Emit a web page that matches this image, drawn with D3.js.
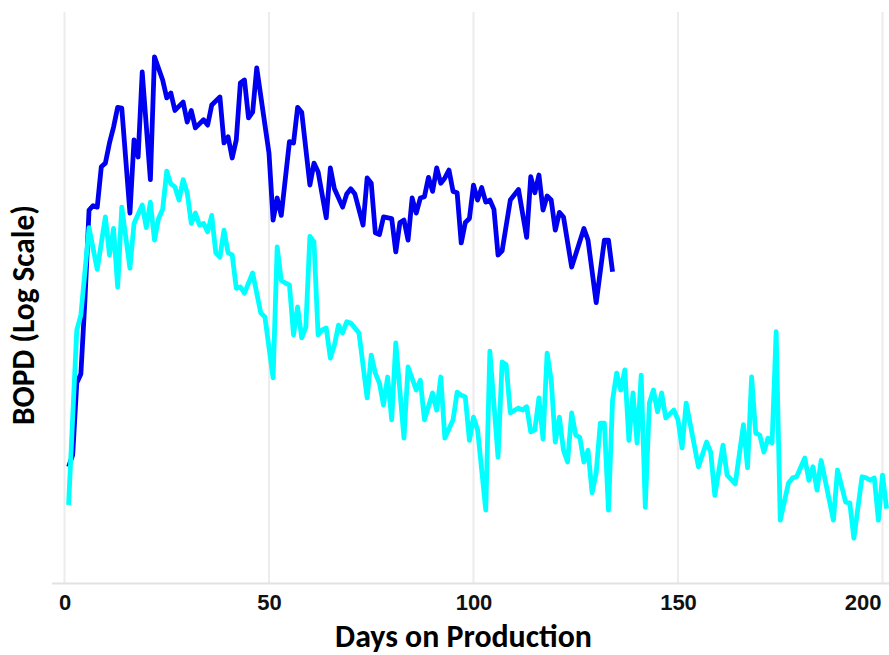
<!DOCTYPE html>
<html>
<head>
<meta charset="utf-8">
<script src="https://cdn.jsdelivr.net/npm/d3@7"></script>
<style>
  html, body { margin: 0; padding: 0; background: #fff; }
  svg { display: block; }
</style>
</head>
<body>
<svg id="chart" width="889" height="655"></svg>
<script>
// ---- data ----
const xTicks = [0, 50, 100, 150, 200];
const xLabel = "Days on Production";
const yLabel = "BOPD (Log Scale)";

const blueDays = [1,2,3,4,5,6,7,8,9,10,11,12,13,14,16,17,18,19,21,22,24,25,26,27,29,30,31,32,34,35,36,38,39,40,41,42,43,44,45,46,47,50,51,52,53,55,56,57,58,60,61,62,64,65,66,68,69,70,71,73,74,75,76,77,78,80,81,82,83,84,85,86,87,88,89,90,91,92,93,94,95,96,97,98,99,100,101,102,103,104,105,106,107,109,111,113,114,115,116,117,118,119,120,121,122,124,127,128,130,132,133,134];
const blueBOPD = [24.4,26.7,46.4,49.7,87.8,175,181,179,244,251,293,331,385,383,171,300,263,505,221,567,475,414,430,376,401,344,376,329,350,336,392,417,293,307,261,300,464,475,355,371,521,271,162,192,168,296,293,385,371,212,251,235,165,242,206,179,198,206,198,156,224,215,147,145,166,164,127,159,162,139,192,171,192,194,225,202,242,215,224,238,202,200,136,159,164,212,189,208,186,189,176,124,128,189,205,142,226,200,229,175,195,189,150,172,166,113,152,139,86,139,139,109];

const cyanDays = [1,3,4,6,8,10,11,12,13,14,16,17,19,20,21,22,23,24,25,26,27,28,29,30,31,32,33,34,35,36,37,38,39,40,41,42,43,44,46,48,49,51,52,53,54,55,56,57,58,59,60,61,62,63,64,65,66,67,68,69,70,72,74,75,76,77,78,79,80,81,83,84,86,87,88,90,91,92,93,95,96,97,98,99,100,101,103,104,106,107,108,109,111,112,113,114,115,116,117,118,119,120,121,122,123,124,125,126,127,128,129,130,131,132,133,134,135,136,137,138,139,140,141,142,143,144,145,146,147,149,150,151,152,155,157,158,159,161,162,164,166,167,168,169,170,171,172,173,174,175,177,178,179,181,182,183,184,185,188,189,191,192,193,195,196,197,198,199,200,201];
const cyanBOPD = [18.2,69.7,78.2,153,111,166,124,152,97,179,112,158,182,153,186,139,164,176,236,214,209,189,221,200,158,171,156,158,148,168,126,122,150,126,124,96,97,92.5,108,79.4,77,48.3,132,102,100,98.5,67.2,83.2,65.6,71.3,143,137,67.2,69.8,70.8,56.2,62.1,72.4,68.1,74.3,73.6,68.1,41.4,57.5,50.1,46.4,39.2,48.6,35.0,63.1,30.4,52.5,44.0,47.4,35.0,43.0,37.7,48.6,30.4,35.0,43.3,42.3,41.7,29.9,35.7,32.4,17.5,59.3,26.3,54.6,53.4,36.9,38.3,37.7,38.7,31.9,32.4,41.4,30.2,58.4,47.5,29.5,35.7,27.7,25.3,36.9,31.1,30.6,25.3,27.7,20.0,23.3,34.1,34.1,17.5,40.7,50.1,44.0,51.3,29.9,43.0,29.3,49.3,17.9,39.8,44.0,37.2,43.0,35.5,37.7,35.0,28.2,39.8,24.4,29.5,27.3,19.6,28.8,22.9,21.4,33.7,24.2,48.6,31.6,31.1,27.3,30.4,29.3,68.8,16.2,21.5,22.4,22.6,26.1,22.0,24.4,20.4,25.6,16.2,23.8,18.6,18.5,14.1,22.6,22.4,22.0,22.4,16.2,22.9,17.7];

// ---- layout ----
const W = 889, H = 655;
const svg = d3.select("#chart");

const x = d3.scaleLinear().domain([0, 200]).range([64.5, 882.5]);
const y = d3.scaleLog().domain([10, 1000]).range([583, -17]);

svg.append("defs").append("clipPath").attr("id", "plotclip")
  .append("rect").attr("x", 0).attr("y", 0).attr("width", W).attr("height", 583);

// vertical gridlines
svg.append("g").selectAll("line").data(xTicks).join("line")
  .attr("x1", d => x(d)).attr("x2", d => x(d))
  .attr("y1", 12).attr("y2", 583)
  .attr("stroke", "#ececec").attr("stroke-width", 2);

// x-axis baseline
svg.append("line")
  .attr("x1", 52).attr("x2", W).attr("y1", 583.5).attr("y2", 583.5)
  .attr("stroke", "#e2e2e2").attr("stroke-width", 2);

// x-axis via d3.axisBottom, styled
const xAxis = d3.axisBottom(x).tickValues(xTicks).tickSize(0).tickPadding(0).tickFormat(d3.format("d"));
const gx = svg.append("g").attr("transform", "translate(0,593)").call(xAxis);
gx.select(".domain").remove();
gx.selectAll("text")
  .attr("dy", "0.76em")
  .attr("fill", "#111")
  .style("font-family", "'Liberation Sans', Arial, sans-serif")
  .style("font-weight", "bold")
  .style("font-size", "22px")
  .each(function(d) {
    if (d === 200) d3.select(this).attr("text-anchor", "end").attr("x", 881 - x(200));
  });

const line = d3.line()
  .x(d => x(d[0]))
  .y(d => y(d[1]));

const plot = svg.append("g").attr("clip-path", "url(#plotclip)");

plot.append("path")
  .datum(blueDays.map((d, i) => [d, blueBOPD[i]]))
  .attr("d", line)
  .attr("fill", "none")
  .attr("stroke", "#0000f0")
  .attr("stroke-width", 4.8)
  .attr("stroke-linejoin", "round");

plot.append("path")
  .datum(cyanDays.map((d, i) => [d, cyanBOPD[i]]))
  .attr("d", line)
  .attr("fill", "none")
  .attr("stroke", "#00ffff")
  .attr("stroke-width", 4.8)
  .attr("stroke-linejoin", "round");

// axis titles
const titleFont = "Carlito, Calibri, Lato, 'Open Sans', sans-serif";
function fitText(sel, target) {
  const w = sel.node().getComputedTextLength();
  const fs = parseFloat(sel.style("font-size"));
  sel.style("font-size", (fs * target / w).toFixed(2) + "px");
}
const xt = svg.append("text")
  .attr("x", 463.5).attr("y", 647)
  .attr("text-anchor", "middle")
  .style("font-family", titleFont).style("font-weight", "bold").style("font-size", "26px")
  .attr("fill", "#000")
  .text(xLabel);
fitText(xt, 257);

const yt = svg.append("text")
  .attr("transform", "translate(34,315) rotate(-90)")
  .attr("text-anchor", "middle")
  .style("font-family", titleFont).style("font-weight", "bold").style("font-size", "26px")
  .attr("fill", "#000")
  .text(yLabel);
fitText(yt, 220);
</script>
</body>
</html>
